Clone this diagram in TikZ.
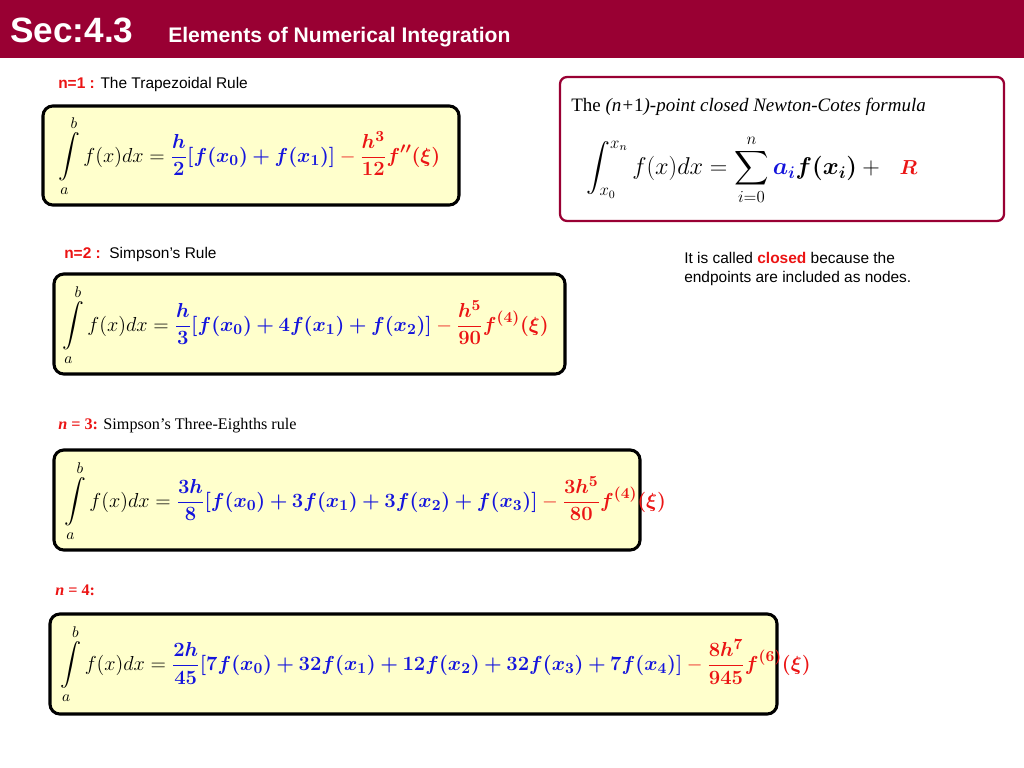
\documentclass[tikz,border=0pt]{standalone}
\usepackage{amsmath}
\usepackage{amssymb}
\usepackage{bm}
\usepackage{fontspec}
\setsansfont{Liberation Sans}
\newfontfamily\timesfont{Liberation Serif}
\usepackage{tikz}
\usetikzlibrary{positioning}

\definecolor{secred}{RGB}{153,0,51}
\definecolor{boxfill}{RGB}{255,255,204}
\definecolor{nblue}{RGB}{20,20,220}
\definecolor{nred}{RGB}{235,20,20}

\newcommand{\bl}[1]{\textcolor{nblue}{#1}}
\newcommand{\rd}[1]{\textcolor{nred}{#1}}
\newcommand{\rmin}{\mathbin{\textcolor{nred}{-}}}

\tikzset{
  rulebox/.style={draw=black, line width=2.2pt, rounded corners=7pt, fill=boxfill},
  ncbox/.style={draw=secred, line width=1.6pt, rounded corners=5pt, fill=white},
  label/.style={anchor=west, inner sep=0pt, font=\sffamily\fontsize{11}{13}\selectfont},
  formula/.style={anchor=west, inner sep=0pt, font=\fontsize{15.5}{18}\selectfont}
}

\begin{document}
\begin{tikzpicture}[x=0.025cm, y=-0.025cm]
				\useasboundingbox (0,0) rectangle (1024,768);
				% header
				\fill[secred] (0,0) rectangle (1024,58);
				\node[anchor=base west, inner sep=0pt, text=white, font=\sffamily\bfseries\fontsize{25}{28}\selectfont] (sec) at (10,43) {Sec:4.3};
				\node[anchor=base west, inner sep=0pt, text=white, font=\sffamily\bfseries\fontsize{15}{17}\selectfont] (title) at (168,43) {Elements of Numerical Integration};
				
				% boxes
				\draw[rulebox] (43,106) rectangle (459,205);
				\draw[rulebox] (54,274) rectangle (565,374);
				\draw[rulebox] (54,450) rectangle (640,550);
				\draw[rulebox] (50,614) rectangle (777,714);
				\draw[ncbox] (560,77) rectangle (1004,221);
				
				% labels
				\node[label] (lab1) at (58,85) {\textbf{\rd{n=1 :}} The Trapezoidal Rule};
				\node[label] (lab2) at (64,254) {\textbf{\rd{n=2 :}}\ \ Simpson’s Rule};
				\node[label, font=\timesfont\fontsize{11.5}{13}\selectfont] (lab3) at (58,426) {\textbf{\rd{\textit{n} = 3:}} Simpson’s Three-Eighths rule};
				\node[label, font=\timesfont\fontsize{11.5}{13}\selectfont] (lab4) at (55,590) {\textbf{\rd{\textit{n} = 4:}}};
				
				% formulas
				\node[formula] (f1) at (58,156) {$\displaystyle\int\limits_a^b f(x)dx=\bl{\frac{\bm h}{\bm 2}\bm{[f(x_0)+f(x_1)]}}\rmin\rd{\frac{\bm{h^3}}{\bm{12}}\bm{f''(\xi)}}$};
				\node[formula] (f2) at (62,325) {$\displaystyle\int\limits_a^b f(x)dx=\bl{\frac{\bm h}{\bm 3}\bm{[f(x_0)+4f(x_1)+f(x_2)]}}\rmin\rd{\frac{\bm{h^5}}{\bm{90}}\bm{f^{(4)}(\xi)}}$};
				\node[formula] (f3) at (64,501) {$\displaystyle\int\limits_a^b f(x)dx=\bl{\frac{\bm{3h}}{\bm 8}\bm{[f(x_0)+3f(x_1)+3f(x_2)+f(x_3)]}}\rmin\rd{\frac{\bm{3h^5}}{\bm{80}}\bm{f^{(4)}(\xi)}}$};
				\node[formula, font=\fontsize{15}{18}\selectfont] (f4) at (60,664) {$\displaystyle\int\limits_a^b f(x)dx=\bl{\frac{\bm{2h}}{\bm{45}}\bm{[7f(x_0)+32f(x_1)+12f(x_2)+32f(x_3)+7f(x_4)]}}\rmin\rd{\frac{\bm{8h^7}}{\bm{945}}\bm{f^{(6)}(\xi)}}$};
				
				% Newton-Cotes
				\node[anchor=west, inner sep=0pt, font=\timesfont\fontsize{13.5}{15}\selectfont] (nctitle) at (571,107) {The \textit{(n+}1\textit{)-point closed Newton-Cotes formula}};
				\node[anchor=west, inner sep=0pt, font=\fontsize{17}{20}\selectfont] (ncf) at (586,170) {$\displaystyle\int_{x_0}^{x_n} f(x)dx=\sum_{i=0}^{n}\bl{\bm{a_i}}\bm{f(x_i)}+\ \ \rd{\text{\Large$\bm{R}$}}$};
				\node[anchor=west, inner sep=0pt, font=\sffamily\fontsize{11}{14}\selectfont, align=left] (closed) at (684,269) {It is called \textbf{\rd{closed}} because the\\endpoints are included as nodes.};
\end{tikzpicture}
\end{document}
